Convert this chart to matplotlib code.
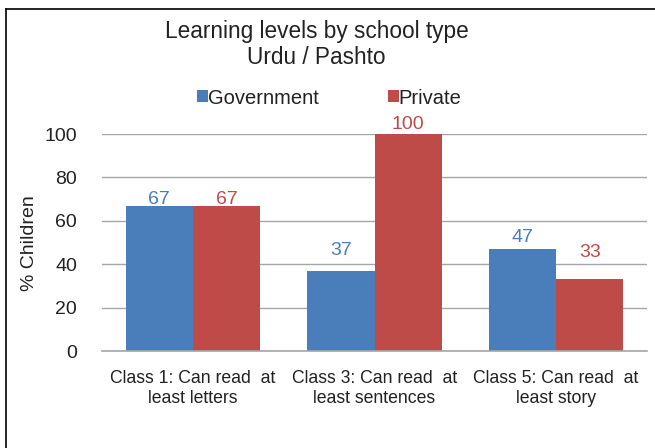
import matplotlib
matplotlib.use("Agg")
import matplotlib.pyplot as plt
import numpy as np
from matplotlib.lines import Line2D

categories = ["Class 1: Can read  at\nleast letters",
              "Class 3: Can read  at\nleast sentences",
              "Class 5: Can read  at\nleast story"]
government = [67, 37, 47]
private = [67, 100, 33]
yticks = [0, 20, 40, 60, 80, 100]

# label gap above bar top (pixels) -- layout only
gov_label_gap = [2, 16, 7]
priv_label_gap = [2, 5, 22]

blue = "#4A7EBB"
red = "#BE4B48"
txt = "#222222"
plt.rcParams["font.family"] = ["Liberation Sans", "DejaVu Sans"]

fig = plt.figure(figsize=(6.55, 4.48), dpi=100)
ax = fig.add_axes([102/655, 1-351/448, (647-102)/655, (351-134)/448])

x = np.arange(len(categories))
w = 0.37
b1 = ax.bar(x - w/2, government, w, color=blue, label="Government", zorder=3)
b2 = ax.bar(x + w/2, private, w, color=red, label="Private", zorder=3)

for bars, vals, gaps, col in [(b1, government, gov_label_gap, blue),
                              (b2, private, priv_label_gap, red)]:
    for rect, v, g in zip(bars, vals, gaps):
        ax.annotate(f"{v}", (rect.get_x() + rect.get_width()/2, v),
                    xytext=(0, g * 0.72), textcoords="offset points",
                    ha="center", va="baseline", color=col, fontsize=14,
                    zorder=5)

ax.set_xlim(-0.5, 2.5)
ax.set_ylim(0, 100)
ax.set_yticks(yticks)
ax.set_yticklabels([str(t) for t in yticks], fontsize=14, color=txt)
ax.set_xticks(x)
ax.set_xticklabels(categories, fontsize=12.7, color=txt, linespacing=1.2)
ax.tick_params(axis="both", length=0)
ax.tick_params(axis="x", pad=14)
ax.tick_params(axis="y", pad=18)
ax.grid(axis="y", color="#A6A6A6", linewidth=1, zorder=0)
for s in ["top", "right", "left"]:
    ax.spines[s].set_visible(False)
ax.spines["bottom"].set_color("#A6A6A6")
ax.spines["bottom"].set_linewidth(1.2)
ax.spines["bottom"].set_zorder(4)

fig.text(30/655, 1-243/448, "% Children", rotation=90, ha="center", va="center",
         fontsize=14, color=txt)
fig.text(316.5/655, 1-44.5/448, "Learning levels by school type\nUrdu / Pashto",
         ha="center", va="center", fontsize=16.3, color=txt, linespacing=1.15)

leg = fig.legend(handles=[b1, b2], loc="center", bbox_to_anchor=(329.5/655, 1-98/448),
                 ncol=2, frameon=False, fontsize=14.5, handlelength=0.55,
                 handleheight=0.55, handletextpad=0.0, columnspacing=3.4,
                 borderpad=0, borderaxespad=0)
for t in leg.get_texts():
    t.set_color(txt)

fig.add_artist(Line2D([6/655, 6/655], [0, 1-9/448], transform=fig.transFigure,
                      color="black", linewidth=1.2))
fig.add_artist(Line2D([6/655, 1], [1-9/448, 1-9/448], transform=fig.transFigure,
                      color="black", linewidth=1.2))

fig.savefig("out.png", dpi=100)
